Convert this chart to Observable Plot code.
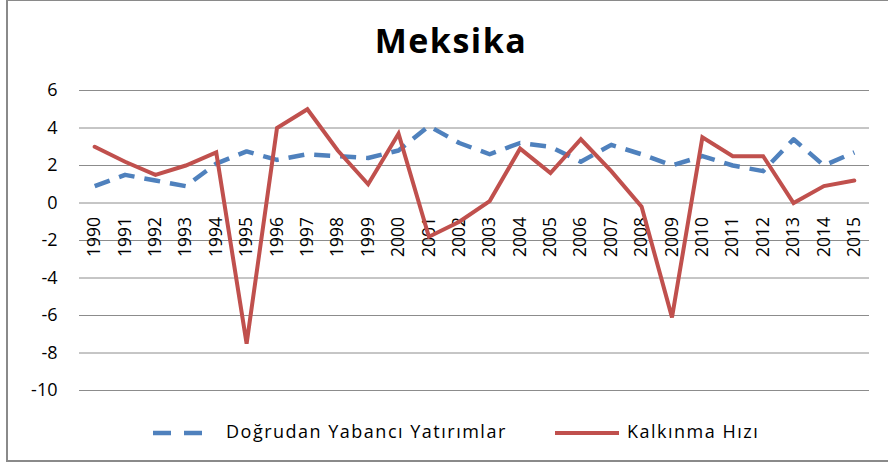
<!DOCTYPE html>
<html>
<head>
<meta charset="utf-8">
<script src="https://cdn.jsdelivr.net/npm/d3@7"></script>
<script src="https://cdn.jsdelivr.net/npm/@observablehq/plot@0.6"></script>
<style>
  body { margin: 0; background: #fff; font-family: "Open Sans", sans-serif; }
  #wrap { position: relative; width: 888px; height: 468px; overflow: hidden; }
  #frame { position: absolute; left: 6px; top: -1px; width: 900px; height: 463px; border: 2px solid #8a8a8a; box-sizing: border-box; }
  #title { position: absolute; left: 0; top: 23px; width: 902px; text-align: center; font-size: 34px; line-height: 1; font-weight: 700; color: #000; letter-spacing: 1.5px; }
  #chart { position: absolute; left: 0; top: 0; }
  #legend { position: absolute; left: 0; top: 0; }
</style>
</head>
<body>
<div id="wrap">
  <div id="frame"></div>
  <div id="chart"></div>
  <div id="title">Meksika</div>
  <svg id="legend" width="888" height="468"></svg>
</div>
<script>
const years = ["1990","1991","1992","1993","1994","1995","1996","1997","1998","1999","2000","2001","2002","2003","2004","2005","2006","2007","2008","2009","2010","2011","2012","2013","2014","2015"];
const dyy = [0.9,1.5,1.2,0.9,2.1,2.75,2.3,2.6,2.5,2.4,2.8,4.1,3.2,2.6,3.2,3.0,2.2,3.1,2.6,2.0,2.5,2.0,1.7,3.4,2.0,2.7];
const kalkinma = [3.0,2.2,1.5,2.0,2.7,-7.5,4.0,5.0,2.8,1.0,3.7,-1.8,-1.0,0.1,2.9,1.6,3.4,1.7,-0.2,-6.1,3.5,2.5,2.5,0.0,0.9,1.2];
const yTicks = [-10,-8,-6,-4,-2,0,2,4,6];
const seriesNames = ["Doğrudan Yabancı Yatırımlar", "Kalkınma Hızı"];
const colors = ["#4f81bd", "#c0504d"];

const dyyData = years.map((y, i) => ({year: y, value: dyy[i]}));
const kData = years.map((y, i) => ({year: y, value: kalkinma[i]}));

const chart = Plot.plot({
  width: 888,
  height: 468,
  marginTop: 90,
  marginBottom: 78,
  marginLeft: 79,
  marginRight: 19,
  style: {fontFamily: "Open Sans, sans-serif", background: "transparent"},
  x: {type: "band", domain: years, padding: 0, round: false, axis: null},
  y: {domain: [-10, 6], axis: null},
  marks: [
    Plot.ruleY(yTicks, {stroke: "#8c8c8c", strokeWidth: 1}),
    Plot.axisY(yTicks, {tickSize: 0, tickPadding: 22, fontSize: 18, fill: "#000", label: null, tickFormat: d => d < 0 ? "-" + Math.abs(d) : String(d)}),
    Plot.text(years, {x: d => d, y: () => 0, text: d => d, rotate: -90, textAnchor: "end", lineAnchor: "middle", dy: 14, fontSize: 17.5, fill: "#000"}),
    Plot.line(dyyData, {x: "year", y: "value", stroke: colors[0], strokeWidth: 4.5, strokeDasharray: "16 10", strokeLinecap: "butt"}),
    Plot.line(kData, {x: "year", y: "value", stroke: colors[1], strokeWidth: 4, strokeLinejoin: "miter", strokeMiterlimit: 4})
  ]
});
document.getElementById("chart").appendChild(chart);

// legend
const lg = d3.select("#legend");
lg.append("line").attr("x1", 153).attr("x2", 204).attr("y1", 433).attr("y2", 433)
  .attr("stroke", colors[0]).attr("stroke-width", 4.5).attr("stroke-dasharray", "18 13");
lg.append("text").attr("x", 226).attr("y", 438).text(seriesNames[0])
  .attr("font-family", "Open Sans, sans-serif").attr("font-size", 18).attr("letter-spacing", "1.5px").attr("fill", "#000");
lg.append("line").attr("x1", 555).attr("x2", 619).attr("y1", 433).attr("y2", 433)
  .attr("stroke", colors[1]).attr("stroke-width", 4);
lg.append("text").attr("x", 627).attr("y", 438).text(seriesNames[1])
  .attr("font-family", "Open Sans, sans-serif").attr("font-size", 18).attr("letter-spacing", "1.5px").attr("fill", "#000");
</script>
</body>
</html>
